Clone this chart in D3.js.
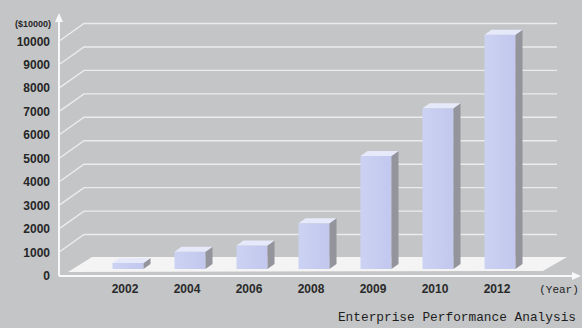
<!DOCTYPE html>
<html>
<head>
<meta charset="utf-8">
<script src="https://cdn.jsdelivr.net/npm/d3@7"></script>
<style>
  html, body { margin: 0; padding: 0; background: #c3c5c6; }
  svg { display: block; }
</style>
</head>
<body>
<div id="chart"></div>
<script>
// data
const years = ["2002", "2004", "2006", "2008", "2009", "2010", "2012"];
const values = [260, 740, 1000, 1950, 4820, 6850, 9990];
const yTicks = [0, 1000, 2000, 3000, 4000, 5000, 6000, 7000, 8000, 9000, 10000];
const unitLabel = "($10000)";
const yearLabel = "(Year)";
const title = "Enterprise Performance Analysis";

const width = 582, height = 328;
const axisX = 59, axisY = 276;
// wall depth (front -> back)
const depthX = 24, depthY = -17;
// bar depth
const barDX = 7, barDY = -5;

const svg = d3.select("#chart").append("svg")
    .attr("width", width)
    .attr("height", height);

svg.append("rect")
    .attr("width", width).attr("height", height)
    .attr("fill", "#c3c5c6");

// back wall scale
const yBack = d3.scaleLinear().domain([0, 10000]).range([258, 23.5]);
// bar scale (bars stand a bit in front of the wall)
const yBar = d3.scaleLinear().domain([0, 10000]).range([269, 34.5]);

const x = d3.scaleBand().domain(years).range([97, 531])
    .paddingInner(0.5).paddingOuter(0.25);

// gridlines: slanted part on side wall, then flat along back wall
const grid = svg.append("g");
yTicks.filter(d => d > 0).forEach(v => {
  const yb = yBack(v);
  grid.append("path")
    .attr("d", `M${axisX + 1},${yb - depthY} L${axisX + 1 + depthX},${yb} L557,${yb}`)
    .attr("fill", "none")
    .attr("stroke", "#ececec")
    .attr("stroke-width", 1.4);
});

// floor
const floorFront = 272, floorBack = 257;
svg.append("path")
  .attr("d", `M68,${floorFront} L543,${floorFront - 1} L567,${floorBack} L92,${floorBack} Z`)
  .attr("fill", "#f4f4f5");

// bars
const defs = svg.append("defs");
const grad = defs.append("linearGradient").attr("id", "front");
grad.append("stop").attr("offset", "0%").attr("stop-color", "#ccd2f2");
grad.append("stop").attr("offset", "100%").attr("stop-color", "#c2c8ee");

const bars = svg.append("g").selectAll("g")
  .data(years.map((y, i) => ({ year: y, value: values[i] })))
  .join("g");

bars.append("rect")
  .attr("x", d => x(d.year))
  .attr("y", d => yBar(d.value))
  .attr("width", x.bandwidth())
  .attr("height", d => yBar(0) - yBar(d.value))
  .attr("fill", "url(#front)");

// side face
bars.append("path")
  .attr("d", d => {
    const x1 = x(d.year) + x.bandwidth(), t = yBar(d.value), b = yBar(0);
    return `M${x1},${t} L${x1 + barDX},${t + barDY} L${x1 + barDX},${b + barDY} L${x1},${b} Z`;
  })
  .attr("fill", "#93949c");

// top face
bars.append("path")
  .attr("d", d => {
    const x0 = x(d.year), x1 = x0 + x.bandwidth(), t = yBar(d.value);
    return `M${x0},${t} L${x0 + barDX},${t + barDY} L${x1 + barDX},${t + barDY} L${x1},${t} Z`;
  })
  .attr("fill", "#e6e9fa");

// axes
svg.append("line")
  .attr("x1", axisX).attr("y1", axisY).attr("x2", axisX).attr("y2", 20)
  .attr("stroke", "#f8f8f8").attr("stroke-width", 2);
svg.append("path")
  .attr("d", `M${axisX - 4},22 L${axisX},13 L${axisX + 4},22 Z`)
  .attr("fill", "#f8f8f8");
svg.append("line")
  .attr("x1", axisX).attr("y1", axisY).attr("x2", 574).attr("y2", axisY)
  .attr("stroke", "#f8f8f8").attr("stroke-width", 2);
svg.append("path")
  .attr("d", `M572,${axisY - 4} L581,${axisY} L572,${axisY + 4} Z`)
  .attr("fill", "#f8f8f8");

// y tick labels
svg.append("g").selectAll("text")
  .data(yTicks)
  .join("text")
  .attr("x", 50)
  .attr("y", d => yBack(d) - depthY + 5)
  .attr("text-anchor", "end")
  .attr("font-family", "Liberation Sans, Arial, sans-serif")
  .attr("font-weight", "bold")
  .attr("font-size", 12)
  .attr("fill", "#262626")
  .text(d => d);

svg.append("text")
  .attr("x", 33).attr("y", 27)
  .attr("text-anchor", "middle")
  .attr("font-family", "Liberation Sans, Arial, sans-serif")
  .attr("font-weight", "bold")
  .attr("font-size", 9)
  .attr("fill", "#262626")
  .text(unitLabel);

// x tick labels
svg.append("g").selectAll("text")
  .data(years)
  .join("text")
  .attr("x", d => x(d) + x.bandwidth() / 2 - 3)
  .attr("y", 293)
  .attr("text-anchor", "middle")
  .attr("font-family", "Liberation Sans, Arial, sans-serif")
  .attr("font-weight", "bold")
  .attr("font-size", 12)
  .attr("fill", "#2a2a2a")
  .text(d => d);

svg.append("text")
  .attr("x", 559).attr("y", 293)
  .attr("text-anchor", "middle")
  .attr("font-family", "Liberation Mono, Courier New, monospace")
  .attr("font-size", 11)
  .attr("fill", "#222")
  .text(yearLabel);

svg.append("text")
  .attr("x", 576).attr("y", 321)
  .attr("text-anchor", "end")
  .attr("font-family", "Liberation Mono, Courier New, monospace")
  .attr("font-size", 12.8)
  .attr("fill", "#1e1e1e")
  .text(title);
</script>
</body>
</html>
